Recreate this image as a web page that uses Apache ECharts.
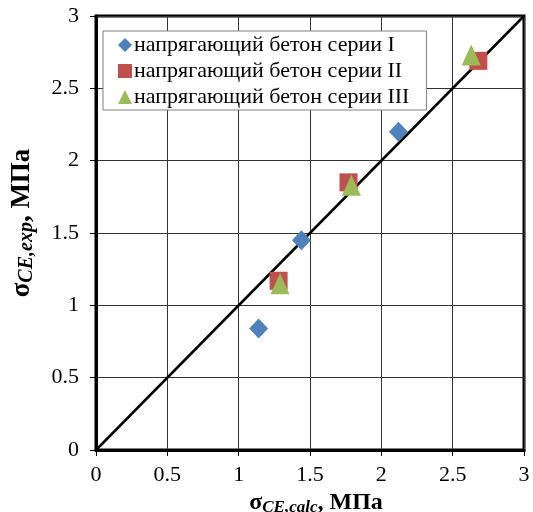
<!DOCTYPE html>
<html>
<head>
<meta charset="utf-8">
<script src="https://cdn.jsdelivr.net/npm/echarts@6/dist/echarts.min.js"></script>
<style>
  html, body { margin: 0; padding: 0; background: #fff; }
  #chart { width: 533px; height: 512px; }
</style>
</head>
<body>
<div id="chart"></div>
<script>
// данные: [σCE,calc, σCE,exp]
const seriesNames = ['напрягающий бетон серии I', 'напрягающий бетон серии II', 'напрягающий бетон серии III']
const seriesI = [[1.14, 0.84], [1.44, 1.45], [2.12, 2.20]]
const seriesII = [[1.28, 1.17], [1.77, 1.85], [2.68, 2.69]]
const seriesIII = [[1.29, 1.15], [1.79, 1.83], [2.63, 2.73]]
const diag = [[0, 0], [3, 3]]
const axisTicks = [0, 0.5, 1, 1.5, 2, 2.5, 3]

const font = 'Liberation Serif'

function axisName(sub, pad, big, small) {
    return {
        name: '{s|σ}{b|' + sub + '}{m|, МПа}',
        nameTextStyle: {
            fontFamily: font,
            color: '#000',
            padding: pad,
            rich: {
                s: {fontFamily: font, fontSize: big, fontWeight: 'bold', color: '#000'},
                b: {fontFamily: font, fontSize: small, fontWeight: 'bold', fontStyle: 'italic', color: '#000', padding: [10, 0, 0, 0]},
                m: {fontFamily: font, fontSize: big, fontWeight: 'bold', color: '#000'}
            }
        }
    }
}

const common = {
    type: 'value',
    min: 0,
    max: 3,
    interval: 0.5,
    axisLine: {show: true, onZero: false, lineStyle: {color: '#000', width: 3}},
    axisTick: {show: true, length: 6, lineStyle: {color: '#000', width: 1}},
    axisLabel: {
        fontFamily: font, fontSize: 22, color: '#000',
        formatter: v => axisTicks.indexOf(v) >= 0 ? String(v) : ''
    },
    splitLine: {show: true, lineStyle: {color: '#333', width: 1}}
}

const chart = echarts.init(document.getElementById('chart'))
chart.setOption({
    animation: false,
    grid: {
        left: 96, right: 9, top: 16, bottom: 62,
        containLabel: false, outerBoundsMode: 'none',
        show: true, borderColor: '#000', borderWidth: 3, backgroundColor: 'transparent'
    },
    legend: {
        left: 103, top: 31, orient: 'vertical',
        padding: [3, 17, 2, 15],
        itemGap: 4,
        itemWidth: 14, itemHeight: 14,
        backgroundColor: '#fff',
        borderColor: '#808080', borderWidth: 1,
        textStyle: {fontFamily: font, fontSize: 22, color: '#000', padding: [0, 0, 0, -3]},
        data: [
            {name: seriesNames[0], icon: 'diamond'},
            {name: seriesNames[1], icon: 'rect'},
            {name: seriesNames[2], icon: 'triangle'}
        ]
    },
    xAxis: Object.assign({}, common, axisName('CE,calc', [0, 0, 0, 12], 24, 17), {
        nameLocation: 'middle', nameGap: 34,
        axisLabel: Object.assign({}, common.axisLabel, {margin: 14})
    }),
    yAxis: Object.assign({}, common, axisName('CE,exp', [0, 0, 0, 20], 27, 20), {
        nameLocation: 'middle', nameGap: 59, nameRotate: 90,
        axisLabel: Object.assign({}, common.axisLabel, {margin: 17})
    }),
    series: [
        {
            type: 'line', data: diag, symbol: 'none', silent: true,
            lineStyle: {color: '#000', width: 2.5}, z: 1
        },
        {
            name: seriesNames[0], type: 'scatter', data: seriesI,
            symbol: 'diamond', symbolSize: [19, 20],
            itemStyle: {color: '#4F81BD', opacity: 1}, z: 3
        },
        {
            name: seriesNames[1], type: 'scatter', data: seriesII,
            symbol: 'rect', symbolSize: 18,
            itemStyle: {color: '#C0504D', opacity: 1}, z: 3
        },
        {
            name: seriesNames[2], type: 'scatter', data: seriesIII,
            symbol: 'triangle', symbolSize: [19, 21],
            itemStyle: {color: '#9BBB59', opacity: 1}, z: 4
        }
    ]
})
window.addEventListener('resize', () => chart.resize())
</script>
</body>
</html>
